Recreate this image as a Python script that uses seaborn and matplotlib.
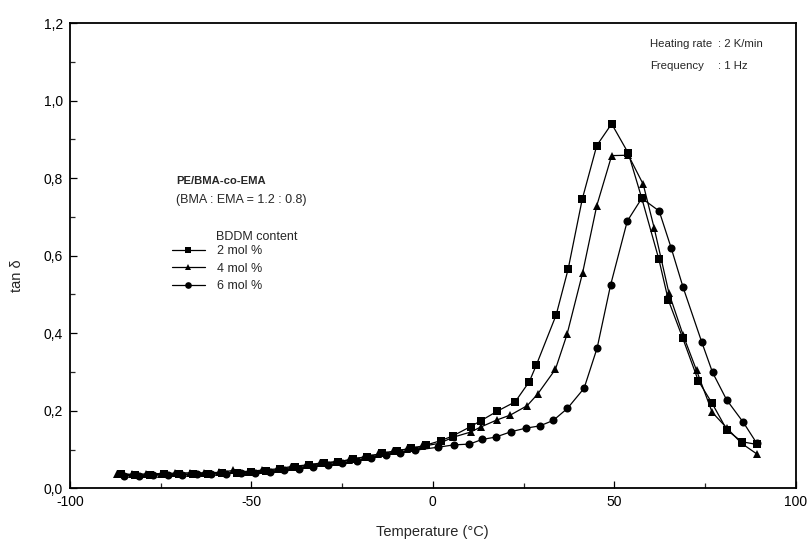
import matplotlib
matplotlib.use("Agg")
import matplotlib.pyplot as plt
from matplotlib.ticker import MultipleLocator, FuncFormatter
from matplotlib.lines import Line2D
import seaborn as sns
import pandas as pd

# ---- data ----
t_2mol = [-86, -82, -78, -74, -70, -66, -62, -58, -54, -50, -46, -42, -38, -34, -30, -26, -22, -18, -14, -10, -6, -2,
          2.2, 5.5, 10.4, 13.2, 17.8, 22.7, 26.6, 28.5, 34.0, 37.3, 41.2, 45.2, 49.3,
          53.9, 57.6, 62.3, 64.9, 68.9, 73.2, 77.0, 81.1, 85.2, 89.4]
v_2mol = [0.037, 0.034, 0.035, 0.036, 0.037, 0.037, 0.038, 0.040, 0.040, 0.042, 0.045, 0.049, 0.055, 0.059, 0.065, 0.069, 0.075, 0.082, 0.090, 0.097, 0.103, 0.111,
          0.123, 0.135, 0.159, 0.174, 0.199, 0.223, 0.275, 0.317, 0.447, 0.565, 0.746, 0.884, 0.940,
          0.864, 0.748, 0.591, 0.486, 0.387, 0.277, 0.219, 0.150, 0.120, 0.113]

t_4mol = [-87, -83, -79, -75, -71, -67, -63, -59, -55, -51, -47, -43, -39, -35, -31, -27, -23, -19, -15, -11, -7, -3,
          1.8, 5.7, 10.4, 13.2, 17.6, 21.4, 26.0, 28.9, 33.8, 37.0, 41.3, 45.2, 49.3,
          53.9, 58.0, 61.0, 65.1, 69.0, 72.7, 77.0, 81.1, 85.1, 89.4]
v_4mol = [0.038, 0.036, 0.037, 0.038, 0.039, 0.040, 0.040, 0.041, 0.046, 0.043, 0.047, 0.050, 0.056, 0.060, 0.065, 0.068, 0.073, 0.081, 0.088, 0.095, 0.101, 0.108,
          0.116, 0.132, 0.145, 0.158, 0.176, 0.189, 0.213, 0.243, 0.307, 0.397, 0.556, 0.729, 0.858,
          0.859, 0.784, 0.672, 0.503, 0.395, 0.304, 0.196, 0.155, 0.116, 0.088]

t_6mol = [-85, -81, -77, -73, -69, -65, -61, -57, -53, -49, -45, -41, -37, -33, -29, -25, -21, -17, -13, -9, -5,
          1.5, 5.8, 10.1, 13.6, 17.3, 21.6, 25.6, 29.5, 33.2, 37.1, 41.7, 45.3, 49.0, 53.6, 57.6,
          62.4, 65.7, 69.0, 74.1, 77.1, 81.0, 85.6, 89.3]
v_6mol = [0.033, 0.032, 0.034, 0.035, 0.035, 0.036, 0.037, 0.038, 0.039, 0.040, 0.043, 0.046, 0.051, 0.055, 0.060, 0.065, 0.071, 0.079, 0.086, 0.092, 0.098,
          0.106, 0.112, 0.114, 0.126, 0.132, 0.146, 0.155, 0.161, 0.175, 0.206, 0.258, 0.362, 0.524, 0.689, 0.748,
          0.715, 0.620, 0.518, 0.378, 0.299, 0.228, 0.170, 0.116]

series_labels = ["2 mol %", "4 mol %", "6 mol %"]
series_markers = ["s", "^", "o"]
x_ticks = [-100, -50, 0, 50, 100]
y_ticks = [0.0, 0.2, 0.4, 0.6, 0.8, 1.0, 1.2]

frames = []
for lab, t, v in zip(series_labels, [t_2mol, t_4mol, t_6mol], [v_2mol, v_4mol, v_6mol]):
    frames.append(pd.DataFrame({"T": t, "tan": v, "series": lab}))
df = pd.concat(frames, ignore_index=True)

sns.set_style("ticks")
plt.rcParams["font.family"] = ["Liberation Sans", "DejaVu Sans"]
plt.rcParams["axes.unicode_minus"] = False

W, H = 808, 543
fig = plt.figure(figsize=(W / 100, H / 100), dpi=100)
L, R, B, T = 70, 795.6, 488.3, 23
ax = fig.add_axes([L / W, 1 - B / H, (R - L) / W, (B - T) / H])

sns.lineplot(data=df, x="T", y="tan", hue="series", style="series",
             markers=dict(zip(series_labels, series_markers)), dashes=False,
             palette=["black"] * 3, linewidth=0.9, markersize=5.8,
             markeredgewidth=0, sort=False, estimator=None, legend=False, ax=ax)

ax.set_xlim(-100, 100)
ax.set_ylim(0, 1.2)
ax.set_xticks(x_ticks)
ax.set_yticks(y_ticks)
ax.xaxis.set_minor_locator(MultipleLocator(25))
ax.yaxis.set_minor_locator(MultipleLocator(0.1))
ax.yaxis.set_major_formatter(FuncFormatter(lambda v, p: f"{v:.1f}".replace(".", ",")))
ax.xaxis.set_major_formatter(FuncFormatter(lambda v, p: f"{int(round(v))}"))
ax.tick_params(which="major", direction="in", length=5, width=0.9, labelsize=10, pad=5, colors="black")
ax.tick_params(which="minor", direction="in", length=3.5, width=0.9)
for s in ax.spines.values():
    s.set_visible(True)
    s.set_linewidth(1.3)
    s.set_color("black")

ax.set_xlabel("Temperature (°C)", fontsize=10.5)
ax.set_ylabel("tan δ", fontsize=10.5)
ax.xaxis.set_label_coords(0.5, (B - 525) / (B - T))
ax.yaxis.set_label_coords((24 - L) / (R - L), (B - 276) / (B - T))


def axpos(px, py):
    return ((px - L) / (R - L), (B - py) / (B - T))


fs = 9
fs_top = 8.2
ax.text(*axpos(650, 44), "Heating rate", transform=ax.transAxes, fontsize=fs_top, va="center", ha="left")
ax.text(*axpos(718, 44), ": 2 K/min", transform=ax.transAxes, fontsize=fs_top, va="center", ha="left")
ax.text(*axpos(650, 66), "Frequency", transform=ax.transAxes, fontsize=fs_top, va="center", ha="left")
ax.text(*axpos(718, 66), ": 1 Hz", transform=ax.transAxes, fontsize=fs_top, va="center", ha="left")

ax.text(*axpos(176, 181), "PE/BMA-co-EMA", transform=ax.transAxes, fontsize=8.1, fontweight="bold",
        va="center", ha="left")
ax.text(*axpos(176, 200), "(BMA : EMA = 1.2 : 0.8)", transform=ax.transAxes, fontsize=fs,
        va="center", ha="left")
ax.text(*axpos(216, 237), "BDDM content", transform=ax.transAxes, fontsize=fs, va="center", ha="left")

handles = [Line2D([], [], color="black", lw=0.9, marker=m, markersize=4.8, markeredgewidth=0)
           for m in series_markers]
leg = ax.legend(handles, series_labels, loc="upper left", bbox_to_anchor=axpos(172, 245),
                frameon=False, fontsize=fs, handlelength=2.6, handletextpad=1.0,
                labelspacing=0.45, borderpad=0, borderaxespad=0)

fig.savefig("out.png", dpi=100)
